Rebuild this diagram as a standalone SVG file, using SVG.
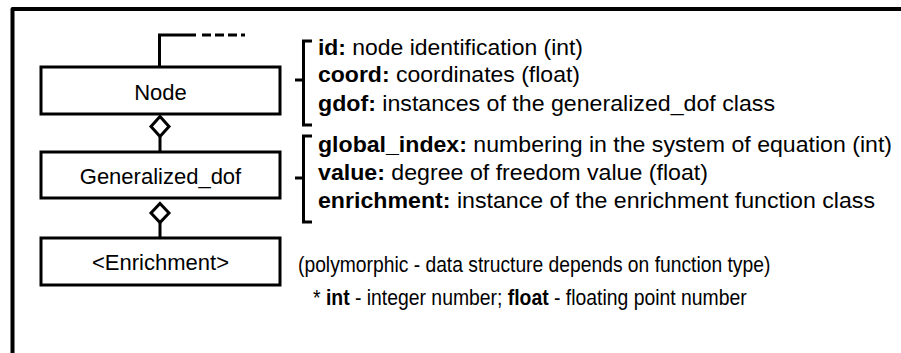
<svg xmlns="http://www.w3.org/2000/svg" width="901" height="353" viewBox="0 0 901 353">
<style>
.box{fill:#fff;stroke:#000;stroke-width:3}
.ln{fill:none;stroke:#000;stroke-width:3}
.lbl{font-family:"Liberation Sans",Arial,sans-serif;font-size:22px;text-anchor:middle;fill:#000}
.t{font-family:"Liberation Sans",Arial,sans-serif;font-size:22.5px;fill:#000}
.s{font-family:"Liberation Sans",Arial,sans-serif;font-size:22.5px;fill:#000}
.b{font-weight:bold}
</style>
<rect width="901" height="353" fill="#fff"/>
<path d="M12.5,353 V9 H901" fill="none" stroke="#000" stroke-width="4" stroke-linejoin="round"/>
<g id="connectors">
<path class="ln" d="M159.5,67 V35 H196"/>
<path class="ln" d="M202,35 H245" stroke-dasharray="9,4"/>
<path class="ln" d="M160,137 V152"/>
<path class="ln" d="M160,222 V238"/>
<path class="ln" d="M160,116.5 L169,126.5 L160,136.5 L151,126.5 Z"/>
<path class="ln" d="M160,203.5 L169,213 L160,222.5 L151,213 Z"/>
</g>
<g id="node">
<rect class="box" x="41" y="67" width="239" height="47"/>
<text class="lbl" x="160.5" y="100">Node</text>
</g>
<g id="generalized_dof">
<rect class="box" x="41" y="152" width="239" height="46"/>
<text class="lbl" x="160.5" y="183.5">Generalized_dof</text>
</g>
<g id="enrichment">
<rect class="box" x="41" y="238" width="239" height="47"/>
<text class="lbl" x="160.5" y="269.5">&lt;Enrichment&gt;</text>
</g>
<g id="brace1">
<path class="ln" d="M312,41 H303.5 V125 H312 M303.5,80 H295"/>
</g>
<g id="brace2">
<path class="ln" d="M312,136 H303.5 V222 H312 M303.5,178 H295"/>
</g>
<g id="texts">
<text class="t" x="318" y="55" textLength="265" lengthAdjust="spacingAndGlyphs"><tspan class="b">id:</tspan> node identification (int)</text>
<text class="t" x="318" y="82" textLength="262" lengthAdjust="spacingAndGlyphs"><tspan class="b">coord:</tspan> coordinates (float)</text>
<text class="t" x="318" y="111" textLength="457" lengthAdjust="spacingAndGlyphs"><tspan class="b">gdof:</tspan> instances of the generalized_dof  class</text>
<text class="t" x="318" y="152" textLength="574" lengthAdjust="spacingAndGlyphs"><tspan class="b">global_index:</tspan> numbering in the system of equation (int)</text>
<text class="t" x="318" y="180" textLength="390" lengthAdjust="spacingAndGlyphs"><tspan class="b">value:</tspan> degree of freedom value (float)</text>
<text class="t" x="318" y="208" textLength="557" lengthAdjust="spacingAndGlyphs"><tspan class="b">enrichment:</tspan> instance of the enrichment function class</text>
<text class="s" transform="translate(298,272) scale(0.857,1)">(polymorphic - data structure depends on function type)</text>
<text class="s" transform="translate(313,305) scale(0.861,1)">* <tspan class="b">int</tspan> - integer number; <tspan class="b">float</tspan> - floating point number</text>
</g>
</svg>
